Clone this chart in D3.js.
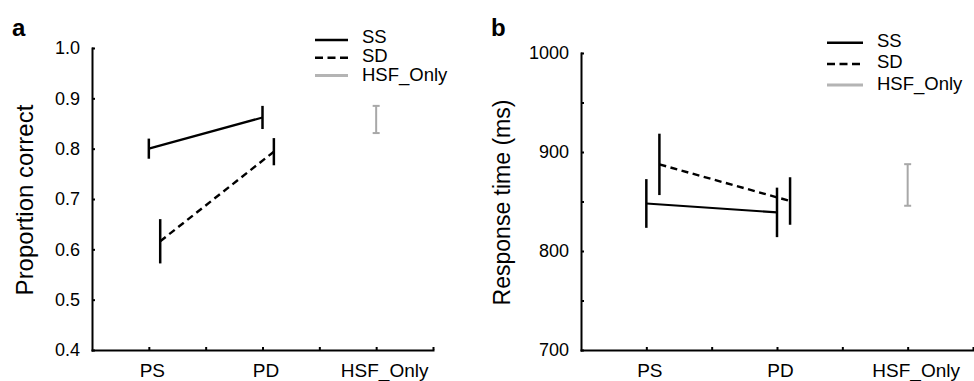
<!DOCTYPE html>
<html>
<head>
<meta charset="utf-8">
<script src="https://cdn.jsdelivr.net/npm/d3@7"></script>
<style>
  body { margin: 0; background: #fff; }
  svg { display: block; font-family: "Liberation Sans", Arial, Helvetica, sans-serif; }
</style>
</head>
<body>
<script>
// Categories on the x axis (positions 1, 2, 3)
const conditions = ["PS", "PD", "HSF_Only"];
const series = ["SS", "SD", "HSF_Only"];

// Panel a: proportion correct (mean, error half-width)
const accSS = [0.800, 0.862];
const accSSErr = [0.020, 0.023];
const accSD = [0.616, 0.794];
const accSDErr = [0.044, 0.027];
const accHSF = 0.858;
const accHSFErr = 0.027;
const accTicks = [0.4, 0.5, 0.6, 0.7, 0.8, 0.9, 1.0];

// Panel b: response time in ms (mean, error half-width)
const rtSS = [848, 839];
const rtSSErr = [24.6, 25];
const rtSD = [887.5, 850.5];
const rtSDErr = [31, 24];
const rtHSF = 866.7;
const rtHSFErr = 21;
const rtTicks = [700, 750, 800, 850, 900, 950, 1000];

const width = 974, height = 381;
const gray = "#a8a8a8";
const dash = "7,4.5";

const svg = d3.select("body").append("svg")
    .attr("width", width)
    .attr("height", height);

function drawPanel(opt) {
    const x = d3.scaleLinear().domain([0.5, 3.5]).range(opt.xRange);
    const y = d3.scaleLinear().domain(opt.yDomain).range(opt.yRange);
    const g = svg.append("g");

    // axes
    const xAxis = d3.axisBottom(x)
        .tickValues([1, 1.5, 2, 2.5, 3, 3.5])
        .tickFormat(d => Number.isInteger(d) ? conditions[d - 1] : "")
        .tickSizeInner(-3).tickSizeOuter(0).tickPadding(14);
    const gx = g.append("g")
        .attr("transform", `translate(0,${opt.yRange[0]})`)
        .call(xAxis);
    gx.selectAll("text")
        .attr("font-size", 19)
        .attr("dx", d => d === 3 ? 8 : 3);

    const yAxis = d3.axisLeft(y)
        .tickValues(opt.yTicks)
        .tickFormat(opt.yFormat)
        .tickSizeInner(-3).tickSizeOuter(0).tickPadding(12);
    const gy = g.append("g")
        .attr("transform", `translate(${opt.xRange[0]},0)`)
        .call(yAxis);
    gy.selectAll("text").attr("font-size", 18);

    [gx, gy].forEach(a => {
        a.attr("font-family", null);
        a.select(".domain").attr("stroke", "#000").attr("stroke-width", 2).attr("stroke-linecap", "square");
        a.selectAll(".tick line").attr("stroke", "#000").attr("stroke-width", 2);
        a.selectAll(".tick text").attr("fill", "#000");
    });

    // y label
    g.append("text")
        .attr("transform", `translate(${opt.yLabelX},${(opt.yRange[0] + opt.yRange[1]) / 2 + 1}) rotate(-90)`)
        .attr("text-anchor", "middle")
        .attr("font-size", opt.yLabelSize)
        .text(opt.yLabel);

    // panel letter
    g.append("text")
        .attr("x", opt.letterX)
        .attr("y", 36)
        .attr("font-size", 24)
        .attr("font-weight", "bold")
        .text(opt.letter);

    const line = d3.line().x(d => x(d.x)).y(d => y(d.v));

    const ss = opt.ss.map((v, i) => ({ x: i + 1, v, e: opt.ssErr[i] }));
    const sd = opt.sd.map((v, i) => ({ x: i + 1 + 0.1, v, e: opt.sdErr[i] }));

    g.append("path").datum(ss)
        .attr("d", line).attr("fill", "none")
        .attr("stroke", "#000").attr("stroke-width", 2.2);
    g.append("path").datum(sd)
        .attr("d", line).attr("fill", "none")
        .attr("stroke", "#000").attr("stroke-width", 2.4)
        .attr("stroke-dasharray", dash);

    g.selectAll(null).data(ss.concat(sd)).join("line")
        .attr("x1", d => x(d.x)).attr("x2", d => x(d.x))
        .attr("y1", d => y(d.v - d.e)).attr("y2", d => y(d.v + d.e))
        .attr("stroke", "#000").attr("stroke-width", 2.5);

    // HSF_Only error bar with caps
    const hx = x(3), cap = 3.5;
    const hg = g.append("g").attr("stroke", gray).attr("stroke-width", 2);
    hg.append("line").attr("x1", hx).attr("x2", hx)
        .attr("y1", y(opt.hsf - opt.hsfErr)).attr("y2", y(opt.hsf + opt.hsfErr));
    [opt.hsf - opt.hsfErr, opt.hsf + opt.hsfErr].forEach(v => {
        hg.append("line").attr("x1", hx - cap).attr("x2", hx + cap)
            .attr("y1", y(v)).attr("y2", y(v));
    });

    // legend
    const lg = g.append("g");
    series.forEach((s, i) => {
        const ly = opt.legY + i * opt.legStep;
        lg.append("line")
            .attr("x1", opt.legX).attr("x2", opt.legX + opt.legW)
            .attr("y1", ly).attr("y2", ly)
            .attr("stroke", i === 2 ? "#b4b4b4" : "#000")
            .attr("stroke-width", i === 2 ? 3 : 2.5)
            .attr("stroke-dasharray", i === 1 ? "8,4.5" : null);
        lg.append("text")
            .attr("x", opt.legX + opt.legW + 14)
            .attr("y", opt.textY + i * opt.textStep)
            .attr("dy", "0.35em")
            .attr("font-size", 18.5)
            .text(s);
    });
}

drawPanel({
    letter: "a", letterX: 12,
    xRange: [92, 433], yDomain: [0.4, 1.0], yRange: [350, 48],
    yTicks: accTicks, yFormat: d3.format(".1f"),
    yLabel: "Proportion correct", yLabelX: 33, yLabelSize: 24,
    ss: accSS, ssErr: accSSErr, sd: accSD, sdErr: accSDErr,
    hsf: accHSF, hsfErr: accHSFErr,
    legX: 315, legW: 33, legY: 40, legStep: 17.8, textY: 36.5, textStep: 19
});

drawPanel({
    letter: "b", letterX: 491,
    xRange: [581, 973], yDomain: [700, 1000], yRange: [350, 53],
    yTicks: rtTicks, yFormat: d => d % 100 === 0 ? d : "",
    yLabel: "Response time (ms)", yLabelX: 510, yLabelSize: 23,
    ss: rtSS, ssErr: rtSSErr, sd: rtSD, sdErr: rtSDErr,
    hsf: rtHSF, hsfErr: rtHSFErr,
    legX: 827, legW: 36, legY: 42.7, legStep: 21.2, textY: 40.5, textStep: 21.5
});
</script>
</body>
</html>
